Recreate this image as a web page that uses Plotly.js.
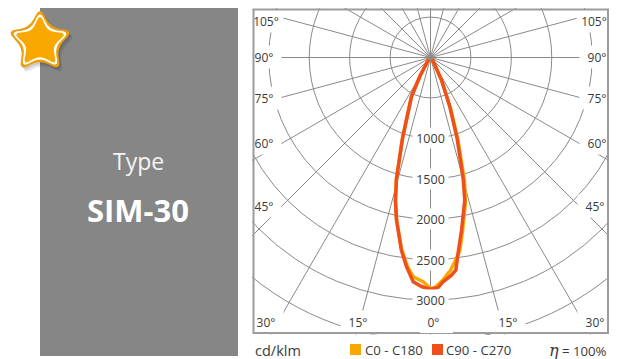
<!DOCTYPE html>
<html><head><meta charset="utf-8">
<script src="https://cdn.plot.ly/plotly-3.0.1.min.js"></script>
<style>
html,body{margin:0;padding:0;background:#fff;overflow:hidden;width:618px;height:359px}
#clip{position:absolute;left:252px;top:8px;width:357px;height:327px;overflow:hidden;z-index:1}
#polar{position:absolute}
#base{position:absolute;left:0;top:0;width:618px;height:359px;z-index:2}
</style></head><body>
<div id="clip"><div id="polar"></div></div>
<div id="base"></div>
<script>
// ---- data ----
const thetaC0  = [-42,-34.6,-29.4,-26,-19.1,-15.7,-13.8,-11.8,-8.6,-6.3,-4.5,-1.9,-1,0,1.1,3.2,5.4,7,8.6,10.4,13.5,15.4,18.4,21.6,26,30,42];
const valuesC0 = [30,87,270,537,1058,1560,1826,2054,2395,2600,2720,2775,2810,2860,2845,2758,2640,2530,2420,2190,1850,1585,1075,665,315,110,30];
const thetaC90  = [-42,-34.6,-29.4,-26,-19.1,-15.7,-13.8,-11.8,-8.6,-6.55,-4.4,-2.25,0,1.9,3.2,5.5,6.8,8,10.2,13.5,15.1,18.2,21.4,26,30,42];
const valuesC90 = [30,87,270,537,1058,1553,1816,2054,2410,2605,2783,2835,2865,2846,2778,2704,2648,2447,2169,1814,1549,1053,654,310,107,30];
const radialTicks = [500,1000,1500,2000,2500,3000,3500];
const radialLabels = [1000,1500,2000,2500,3000];
const angleLabels = ['105°','90°','75°','60°','45°','30°','15°','0°','15°','30°','45°','60°','75°','90°','105°'];
const legendNames = ['C0 - C180','C90 - C270'];
const colorC0='#f9a800', colorC90='#ee4f1b';

// ---- polar geometry ----
const pxPerUnit=0.0808, rMax=4100, cx=430.7, cy=57.5, clipL=252, clipT=8;
const R=rMax*pxPerUnit, size=2*R;
const polarEl=document.getElementById('polar');
polarEl.style.left=(cx-R-clipL)+'px'; polarEl.style.top=(cy-R-clipT)+'px';
polarEl.style.width=size+'px'; polarEl.style.height=size+'px';
const font='"Open Sans", sans-serif', ink='#3a3a3a';
const px=(x)=>(x-(cx-R))/size, py=(y)=>1-(y-(cy-R))/size;

// label anchor positions in window pixels, same order as angleLabels
const labelXY=[[266,21],[264,57],[264,98],[264,143],[264,206],[266,322],[358,322],[434,322],
               [508,322],[595,322],[595,206],[597,143],[597,98],[597,57],[594,21]];
const anns=angleLabels.map((t,i)=>({text:t,x:px(labelXY[i][0]),y:py(labelXY[i][1]),xref:'paper',yref:'paper',
  xanchor:'center',yanchor:'middle',showarrow:false,font:{family:font,size:12,color:ink},
  bgcolor:'#fff',width:i===7?33:32,height:i>4&&i<10?21:20}));
radialLabels.forEach(v=>anns.push({text:String(v),x:0.5,y:0.5-v/(2*rMax),xref:'paper',yref:'paper',
  xanchor:'center',yanchor:'middle',showarrow:false,font:{family:font,size:12.5,color:ink},bgcolor:'#fff',width:33,height:18}));

Plotly.newPlot(polarEl,[
 {type:'scatterpolar',mode:'lines',r:valuesC0,theta:thetaC0,line:{color:colorC0,width:3.5},hoverinfo:'skip'},
 {type:'scatterpolar',mode:'lines',r:valuesC90,theta:thetaC90,line:{color:colorC90,width:3.5},hoverinfo:'skip'}
],{width:size,height:size,margin:{l:0,r:0,t:0,b:0},paper_bgcolor:'#fff',showlegend:false,
 polar:{domain:{x:[0,1],y:[0,1]},bgcolor:'#fff',
  radialaxis:{range:[0,rMax],tickmode:'array',tickvals:radialTicks,showticklabels:false,ticks:'',showline:false,gridcolor:'#8a8a8a',gridwidth:1},
  angularaxis:{rotation:-90,direction:'counterclockwise',dtick:15,showticklabels:false,ticks:'',showline:false,gridcolor:'#8a8a8a',gridwidth:1}},
 annotations:anns},{staticPlot:true,displayModeBar:false});

// ---- panel, frame, star, legend (top layer, transparent paper) ----
const star=(o,i,r,dx,dy)=>{ // rounded five-point star
  const c=[40+(dx||0),42+(dy||0)],P=[];for(let k=0;k<10;k++){const a=-Math.PI/2+k*Math.PI/5,q=k%2?i:o;P.push([c[0]+q*Math.cos(a),c[1]+q*Math.sin(a)]);}
  let d='';for(let k=0;k<10;k++){const p=P[k],a=P[(k+9)%10],b=P[(k+1)%10];
    const f=(u,v,t)=>[u[0]+(v[0]-u[0])*t,u[1]+(v[1]-u[1])*t];const s=f(p,a,r),e=f(p,b,r);
    d+=(k?'L':'M')+s[0]+' '+s[1]+'Q'+p[0]+' '+p[1]+' '+e[0]+' '+e[1];}
  return d+'Z';};
const sh=(path,fill,op)=>({type:'path',xref:'x',yref:'y',path,fillcolor:fill,opacity:op||1,line:{width:0},layer:'above'});
const rect=(x0,y0,x1,y1,fill)=>({type:'rect',xref:'x',yref:'y',x0,y0,x1,y1,fillcolor:fill,line:{width:0},layer:'above'});
const t=(text,x,y,size,color,anchor)=>({text,x,y,xref:'x',yref:'y',xanchor:anchor||'left',yanchor:'middle',showarrow:false,
  font:{family:font,size,color},borderpad:0});
Plotly.newPlot('base',[],{width:618,height:359,margin:{l:0,r:0,t:0,b:0},paper_bgcolor:'rgba(0,0,0,0)',plot_bgcolor:'rgba(0,0,0,0)',showlegend:false,
 xaxis:{range:[0,618],visible:false,fixedrange:true},yaxis:{range:[359,0],visible:false,fixedrange:true},
 shapes:[
  rect(40,8,238,356,'#868686'),
  {type:'rect',xref:'x',yref:'y',x0:253.5,x1:608,y0:9.5,y1:333,line:{color:'#9c9c9c',width:2},fillcolor:'rgba(0,0,0,0)',layer:'above'},
  rect(420,332,453,333,'#ffffff'),
  rect(350,344,361,355,colorC0),
  rect(432,344,443,355,colorC90),
  sh(star(35,18,0.42,3,4),'#000000',0.10),
  sh(star(35,18,0.42,1.5,2),'#000000',0.10),
  sh(star(35,18,0.42),'#ec9f0c'),
  sh(star(31.5,15.5,0.42),'#ffffff'),
  sh(star(28,13.5,0.36),'#f9a800')
 ],
 annotations:[
  t('Type',138,161,23,'#f4f4f4','center'),
  t('<b>SIM-30</b>',138,210,31,'#ffffff','center'),
  t('cd/klm',254,350,14.5,ink),
  t(legendNames[0],363.5,350,13.2,ink),
  t(legendNames[1],445,350,13.2,ink),
  t('<span style="font-family:\'DejaVu Serif\',serif;font-size:16px"><i>η</i></span> = 100%',608,350,13.2,ink,'right')
 ]},{staticPlot:true,displayModeBar:false});
</script>
</body></html>
